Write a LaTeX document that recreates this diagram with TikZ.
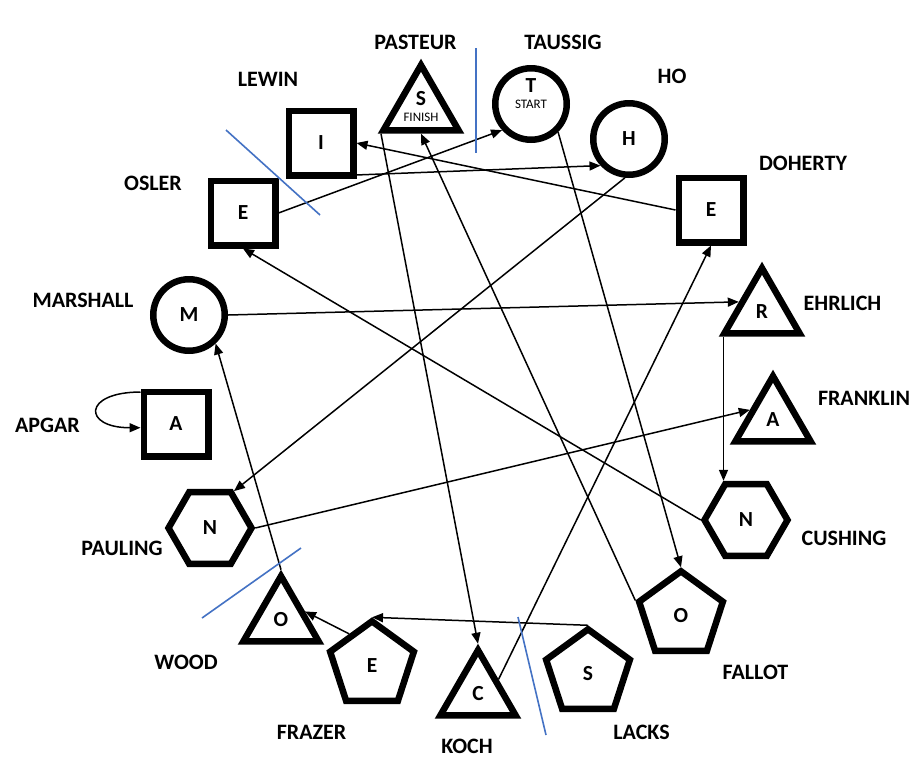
\documentclass[tikz,border=0pt]{standalone}
\usepackage{fontspec}
\setmainfont{Carlito}
\usetikzlibrary{shapes.geometric,arrows.meta}
\definecolor{accentblue}{HTML}{4472C4}
\begin{document}
\begin{tikzpicture}[x=1pt,y=-1pt,
  shapebase/.style={draw, line width=6.5pt, fill=white, inner sep=0pt,
    font=\bfseries\fontsize{21.5}{23}\selectfont},
  sqbox/.style={shapebase, rectangle, minimum size=64.5pt},
  circbox/.style={shapebase, circle, minimum size=71.5pt},
  tribox/.style={shapebase, regular polygon, regular polygon sides=3, minimum size=87pt},
  pentbox/.style={shapebase, regular polygon, regular polygon sides=5, minimum size=88pt},
  hexbox/.style={shapebase, regular polygon, regular polygon sides=6, minimum size=83pt},
  lettertext/.style={inner sep=0pt, font=\bfseries\fontsize{21.5}{23}\selectfont},
  smalltext/.style={inner sep=0pt, font=\fontsize{13}{14}\selectfont},
  nametext/.style={inner sep=0pt, font=\bfseries\fontsize{22}{24}\selectfont},
  conn/.style={line width=1.5pt, -{Triangle[length=11pt,width=9pt]}},
  divider/.style={accentblue, line width=1.6pt}]
\useasboundingbox (0,0) rectangle (921,764);
\fill[white] (0,0) rectangle (921,764);

% shapes
\node[tribox]  (pasteur)  at (421,108.7) {};
\node[lettertext] (pasteurS) at (421,99) {S};
\node[smalltext]  (pasteurF) at (421,117) {FINISH};
\node[circbox] (taussig)  at (531,104) {};
\node[lettertext] (taussigT) at (531,86) {T};
\node[smalltext]  (taussigS) at (531,104) {START};
\node[sqbox]   (lewin)    at (321,143) {I};
\node[circbox] (ho)       at (629,139) {H};
\node[sqbox]   (osler)    at (243,213) {E};
\node[sqbox]   (doherty)  at (711,210) {E};
\node[circbox] (marshall) at (189,315) {M};
\node[tribox]  (ehrlich)  at (762,311.7) {R};
\node[sqbox]   (apgar)    at (176,424) {A};
\node[tribox]  (franklin) at (773,419.7) {A};
\node[hexbox]  (pauling)  at (210,528) {N};
\node[hexbox]  (cushing)  at (746,520) {N};
\node[tribox]  (wood)     at (281,619.7) {O};
\node[pentbox] (fallot)   at (681,615.3) {O};
\node[pentbox] (frazer)   at (372,665.3) {E};
\node[tribox]  (koch)     at (478,693.7) {C};
\node[pentbox] (lacks)    at (588,673.3) {S};

% names
\node[nametext] (lPasteur)  at (415.5,42) {PASTEUR};
\node[nametext] (lTaussig)  at (563,42) {TAUSSIG};
\node[nametext] (lLewin)    at (268,79) {LEWIN};
\node[nametext] (lHo)       at (672,76) {HO};
\node[nametext] (lDoherty)  at (803,163) {DOHERTY};
\node[nametext] (lOsler)    at (153,183) {OSLER};
\node[nametext] (lMarshall) at (83,300) {MARSHALL};
\node[nametext] (lEhrlich)  at (842.5,303.5) {EHRLICH};
\node[nametext] (lFranklin) at (864,398.5) {FRANKLIN};
\node[nametext] (lApgar)    at (47.5,425.5) {APGAR};
\node[nametext] (lPauling)  at (122,548) {PAULING};
\node[nametext] (lCushing)  at (844,538) {CUSHING};
\node[nametext] (lWood)     at (186,662.5) {WOOD};
\node[nametext] (lFallot)   at (755.5,672) {FALLOT};
\node[nametext] (lFrazer)   at (311.5,732) {FRAZER};
\node[nametext] (lKoch)     at (467,746) {KOCH};
\node[nametext] (lLacks)    at (641.5,732) {LACKS};

% connectors
\draw[conn] (osler.east) -- (taussig.222);
\draw[conn] (lewin.-42) -- (ho.223);
\draw[conn] (doherty.west) -- (lewin.east);
\draw[conn] (ho.264) -- (pauling.57);
\draw[conn] (taussig.-46) -- (fallot.north);
\draw[conn] (pasteur.212) -- (koch.north);
\draw[conn] (fallot.162) -- (pasteur.south);
\draw[conn] (marshall.east) -- (ehrlich.157);
\draw[conn] (ehrlich.213) -- (ehrlich.213 |- cushing.north);
\draw[conn] (pauling.east) -- (franklin.157);
\draw[conn] (cushing.west) -- (osler.south);
\draw[conn] (wood.north) -- (marshall.-47);
\draw[conn] (frazer.126) -- (wood.19);
\draw[conn] (lacks.north) -- (frazer.north);
\draw[conn] (koch.35) -- (doherty.south);
\draw[conn] (apgar.138) to[out=180,in=180,distance=58pt] (apgar.186);

% blue dividers
\draw[divider] (476,48) -- (476,153);
\draw[divider] (226,130) -- (320,215);
\draw[divider] (202,618) -- (301,548);
\draw[divider] (518,617) -- (546,735);
\end{tikzpicture}
\end{document}
